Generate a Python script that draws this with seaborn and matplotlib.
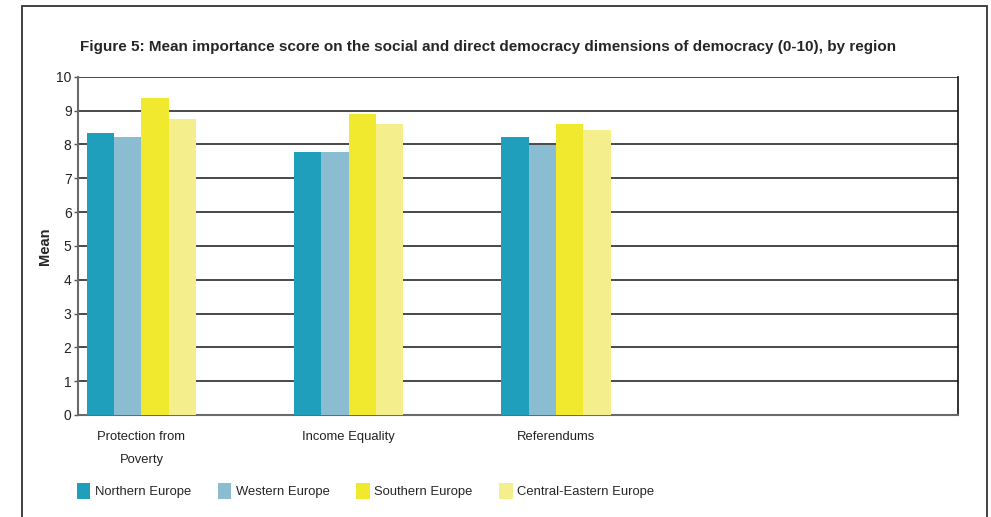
import pandas as pd
import matplotlib
matplotlib.use('Agg')
import matplotlib.pyplot as plt
from matplotlib.patches import Rectangle, Patch
import seaborn as sns

# Data
categories = ['Protection from\nPoverty', 'Income Equality', 'Referendums']
regions = ['Northern Europe', 'Western Europe', 'Southern Europe', 'Central-Eastern Europe']
northern = [8.34, 7.77, 8.22]
western = [8.22, 7.77, 7.98]
southern = [9.37, 8.90, 8.60]
central_eastern = [8.75, 8.60, 8.42]
colors = ['#209FBD', '#8ABDD2', '#F0E92E', '#F5EE8C']

# Long format for seaborn
rows = []
for region, vals in zip(regions, [northern, western, southern, central_eastern]):
    for cat, v in zip(categories, vals):
        rows.append({'Category': cat, 'Region': region, 'Mean': v})
df = pd.DataFrame(rows)

sns.set_style('white')
plt.rcParams['font.family'] = ['Liberation Sans', 'DejaVu Sans']

fig = plt.figure(figsize=(9.91, 5.17), dpi=100)
ax = fig.add_axes([0.0792, 0.1973, 0.887, 0.6543])

sns.barplot(data=df, x='Category', y='Mean', hue='Region', order=categories,
            hue_order=regions, palette=colors, width=0.527, saturation=1,
            edgecolor='none', linewidth=0, ax=ax, legend=False, zorder=3)

ax.set_xlim(-0.304, 3.938)
ax.set_ylim(0, 10)
ax.set_yticks(range(0, 11))
ax.yaxis.grid(True, color='#3a3a3a', linewidth=1.3, zorder=0)
ax.set_axisbelow(True)
ax.set_xlabel('')
ax.set_ylabel('')

ax.set_xticks(range(len(categories)))
ax.set_xticklabels(categories, linespacing=2.2, color='#222222')
ax.tick_params(axis='y', length=3, width=1, color='#555555', labelsize=10, pad=2, left=True)
ax.tick_params(axis='x', length=0, labelsize=9.4, pad=11.5)
for lbl in ax.get_yticklabels():
    lbl.set_color('#222222')

for side in ['left', 'bottom', 'top']:
    ax.spines[side].set_color('#6a6a6a')
    ax.spines[side].set_linewidth(1.5)
ax.spines['top'].set_visible(False)
ax.spines['right'].set_color('#111111')
ax.spines['right'].set_linewidth(1.2)

# Title and y label
fig.text(0.0807, 0.909, 'Figure 5: Mean importance score on the social and direct democracy '
         'dimensions of democracy (0-10), by region',
         fontsize=11.0, fontweight='bold', va='center', ha='left')
fig.text(0.0455, 0.524, 'Mean', rotation=90, fontsize=10.5, fontweight='bold',
         va='center', ha='center')

# Legend
handles = [Patch(facecolor=c, edgecolor='none', label=r) for c, r in zip(colors, regions)]
fig.legend(handles=handles, loc='center left', bbox_to_anchor=(0.0775, 1 - 491 / 517),
           ncol=4, frameon=False, fontsize=9.4, handlelength=1.03, handleheight=1.4,
           handletextpad=0.34, columnspacing=2.05, borderpad=0, borderaxespad=0)

# Outer frame
fig.patches.append(Rectangle((21.7 / 991, -0.05), (987 - 21.7) / 991, 1.05 - 6 / 517,
                             transform=fig.transFigure, fill=False,
                             edgecolor='#333333', linewidth=1.3))

fig.savefig('out.png', dpi=100)
